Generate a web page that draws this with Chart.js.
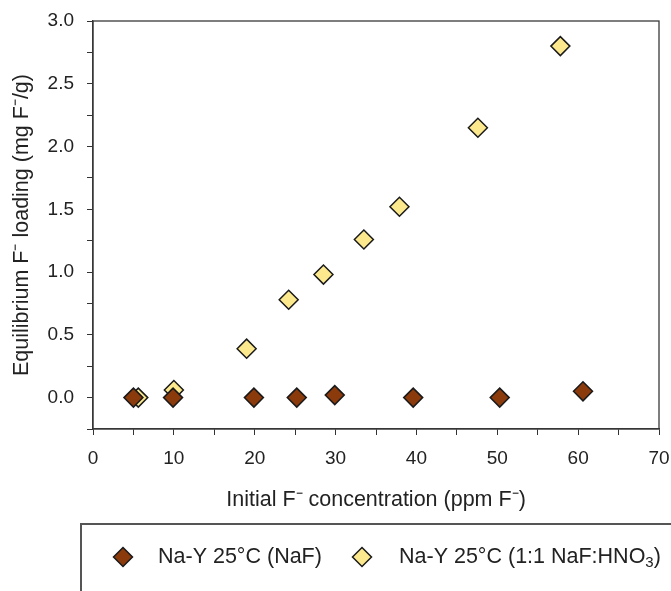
<!DOCTYPE html>
<html>
<head>
<meta charset="utf-8">
<script src="https://cdn.jsdelivr.net/npm/chart.js@4/dist/chart.umd.min.js"></script>
<style>
html, body {margin: 0; background: #fff;}
</style>
</head>
<body>
<canvas id="chart" width="671" height="591"></canvas>
<script>
// Na-Y 25°C, NaF only
const nafX = [5.0, 9.9, 19.9, 25.2, 29.9, 39.6, 50.3, 60.6];
const nafY = [0.0, 0.0, 0.0, 0.0, 0.02, 0.0, 0.0, 0.05];
// Na-Y 25°C, 1:1 NaF:HNO3
const acidX = [5.6, 10.0, 19.0, 24.2, 28.5, 33.5, 37.9, 47.6, 57.8];
const acidY = [0.0, 0.06, 0.39, 0.78, 0.98, 1.26, 1.52, 2.15, 2.80];

const seriesLabels = ["Na-Y 25°C (NaF)", "Na-Y 25°C (1:1 NaF:HNO₃)"];
const seriesColors = ["#8b3a0c", "#fce98e"];
const xTitle = "Initial F⁻ concentration (ppm F⁻)";
const yTitle = "Equilibrium F⁻ loading (mg F⁻/g)";
const xRange = [0, 70, 5];      //min, max, minor step (labels every 10)
const yRange = [-0.25, 3.0, 0.25]; //labels every 0.5

const FONT = "'Liberation Sans', Arial, sans-serif";
const INK = "#222";
const TITLE_SIZE = 21.5;

function diamond(ctx, x, y, r) {
	ctx.beginPath();
	ctx.moveTo(x, y - r); ctx.lineTo(x + r, y); ctx.lineTo(x, y + r); ctx.lineTo(x - r, y);
	ctx.closePath();
	ctx.fill(); ctx.stroke();
}

//Draw text, turning unicode subscript digits into small lowered digits
function richText(ctx, text, x, y, size) {
	text.split(/([\u2080-\u2089]+)/).forEach(part => {
		if (!part) return;
		if (/^[\u2080-\u2089]+$/.test(part)) {
			const digits = [...part].map(c => String.fromCharCode(c.charCodeAt(0) - 0x2080 + 48)).join("");
			ctx.font = Math.round(size * 0.7) + "px " + FONT;
			ctx.fillText(digits, x, y + size * 0.28);
			x += ctx.measureText(digits).width;
		} else {
			ctx.font = size + "px " + FONT;
			ctx.fillText(part, x, y);
			x += ctx.measureText(part).width;
		}
	});
}

//Closed frame round the plot area
const frame = {
	id: "frame",
	afterDatasetsDraw(chart) {
		const {ctx, chartArea: a} = chart;
		ctx.save();
		ctx.strokeStyle = "#3a3a3a"; ctx.lineWidth = 1.3;
		ctx.strokeRect(a.left, a.top, a.right - a.left, a.bottom - a.top);
		ctx.restore();
	},
};

//Boxed legend below the x-axis title, cut off at the bottom right like the original
const legendBox = {
	id: "legendBox",
	afterDraw(chart) {
		const {ctx} = chart;
		const top = chart.chartArea.bottom + 95, left = 81, rowY = top + 33;
		ctx.save();
		ctx.strokeStyle = "#555"; ctx.lineWidth = 2;
		ctx.beginPath();
		ctx.moveTo(left, chart.height + 5); ctx.lineTo(left, top); ctx.lineTo(chart.width + 5, top);
		ctx.stroke();
		const items = [[123, 158], [362, 399]]; //marker centre, text start
		chart.data.datasets.forEach((ds, i) => {
			const [mx, tx] = items[i];
			ctx.fillStyle = ds.backgroundColor; ctx.strokeStyle = ds.borderColor; ctx.lineWidth = 1.5;
			diamond(ctx, mx, rowY, 9.5);
			ctx.fillStyle = INK; ctx.textBaseline = "middle"; ctx.textAlign = "left";
			richText(ctx, ds.label, tx, rowY, TITLE_SIZE);
		});
		ctx.restore();
	},
};

const pts = (xs, ys) => xs.map((x, i) => ({x, y: ys[i]}));

new Chart(document.getElementById("chart"), {
	type: "scatter",
	data: {
		datasets: [
			{label: seriesLabels[0], data: pts(nafX, nafY)},
			{label: seriesLabels[1], data: pts(acidX, acidY)},
		].map((ds, i) => ({
			...ds,
			backgroundColor: seriesColors[i], borderColor: "#1a1a1a",
			pointStyle: "rectRot", pointRadius: 9.5, pointBorderWidth: 1.5,
		})),
	},
	options: {
		responsive: false, animation: false, devicePixelRatio: 1,
		layout: {padding: {left: 0, right: 12, top: 21, bottom: 76}},
		plugins: {legend: {display: false}, tooltip: {enabled: false}},
		scales: {
			x: {
				type: "linear", min: xRange[0], max: xRange[1],
				//fixed height; the layout padding already leaves room for the end labels
				afterFit: s => { s.height = 86; s.paddingLeft = 0; s.paddingRight = 0; },
				ticks: {
					stepSize: xRange[2], autoSkip: false, maxRotation: 0, padding: 12,
					color: INK, font: {family: FONT, size: 19},
					callback: v => v % 10 === 0 ? String(v) : "",
				},
				grid: {drawOnChartArea: false, tickLength: 6, color: "#333"},
				border: {color: "#333", width: 1.3},
				title: {display: true, text: xTitle, color: INK, font: {family: FONT, size: TITLE_SIZE}, padding: {top: 0, bottom: 2}},
			},
			y: {
				type: "linear", min: yRange[0], max: yRange[1],
				afterFit: s => { s.width = 93; s.paddingTop = 0; s.paddingBottom = 0; },
				ticks: {
					stepSize: yRange[2], autoSkip: false, padding: 13,
					color: INK, font: {family: FONT, size: 19},
					callback: v => {
						const half = Math.round(v * 2);
						return v >= 0 && Math.abs(v * 2 - half) < 1e-6 ? (half / 2).toFixed(1) : "";
					},
				},
				grid: {drawOnChartArea: false, tickLength: 6, color: "#333"},
				border: {color: "#333", width: 1.3},
				title: {display: true, text: yTitle, color: INK, font: {family: FONT, size: TITLE_SIZE}, padding: {top: 9, bottom: 0}},
			},
		},
	},
	plugins: [frame, legendBox],
});
</script>
</body>
</html>
